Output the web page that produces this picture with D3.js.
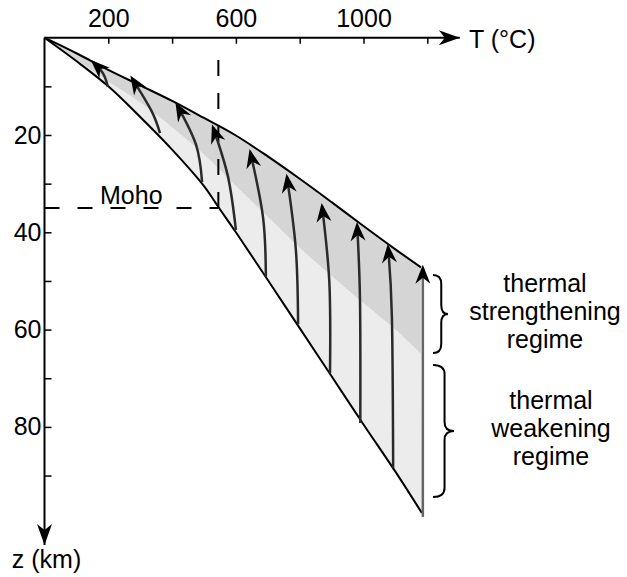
<!DOCTYPE html>
<html>
<head>
<meta charset="utf-8">
<script src="https://cdn.jsdelivr.net/npm/d3@7"></script>
<style>
  body { margin: 0; background: #fff; }
  svg { display: block; font-family: "Liberation Sans", Arial, sans-serif; }
</style>
</head>
<body>
<svg id="chart" width="627" height="577"></svg>
<script>
/* Data: temperature T (°C) against depth z (km) */
/* ********************************************* */

// cold (upper) and hot (lower) geotherms, and the line between the two regimes
var upperGeotherm = [[0,0],[100,3.2],[200,6.6],[300,9.8],[400,13.0],[500,16.5],[600,20.1],[700,24.4],[800,29.0],[900,33.8],[1000,38.7],[1100,43.5],[1180,47.2]];
var regimeBoundary = [[0,0],[100,4.5],[200,9.0],[300,13.3],[360,16.3],[500,24.0],[600,30.5],[700,36.8],[800,43.2],[900,49.0],[1000,54.6],[1100,60.0],[1180,65.0]];
var lowerGeotherm = [[0,0],[100,4.8],[200,10.0],[300,16.3],[400,23.0],[500,30.5],[545,34.8],[600,40.0],[700,49.8],[800,59.7],[900,69.6],[1000,79.5],[1100,89.2],[1183,97.7]];

// exhumation paths: tail, middle, head
var exhumationPaths = [
    [[199,10.1],[183,7.3],[152,5.0]],
    [[362,19.6],[335,15.0],[274,8.3]],
    [[494,29.7],[475,22.0],[415,13.8]],
    [[600,39.5],[575,28.5],[528,18.4]],
    [[694,49.2],[685,36.9],[645,23.5]],
    [[795,58.9],[788,43.6],[760,28.6]],
    [[895,68.9],[893,50.4],[870,34.6]],
    [[990,79.2],[989,53.9],[980,38.5]],
    [[1093,88.4],[1089,57.4],[1077,43.0]],
    [[1186,98.5],[1186,73.0],[1186,47.3]]
];

var moho = { T: 545, z: 35 };

var xTicks = [200, 400, 600, 800, 1000, 1200];
var xLabels = [200, 600, 1000];
var zTicks = [10, 20, 30, 40, 50, 60, 70, 80, 90];
var zLabels = [20, 40, 60, 80];

var regimes = [
    { lines: ['thermal', 'strengthening', 'regime'], z0: 48.8, z1: 64.8 },
    { lines: ['thermal', 'weakening', 'regime'], z0: 67.3, z1: 94.4 }
];


/* Drawing */
/* ******* */
var svg = d3.select('#chart');

var x = d3.scaleLinear().domain([0, 1200]).range([44.5, 427.3]);
var y = d3.scaleLinear().domain([0, 100]).range([37.7, 524.2]);

var defs = svg.append('defs');

function addMarker(id, len, half, notch, ref) {
    defs.append('marker')
        .attr('id', id)
        .attr('markerUnits', 'userSpaceOnUse')
        .attr('viewBox', (-len - 1) + ' ' + (-half - 1) + ' ' + (len + 6) + ' ' + (2 * half + 2))
        .attr('markerWidth', len + 6)
        .attr('markerHeight', 2 * half + 2)
        .attr('refX', ref)
        .attr('refY', 0)
        .attr('orient', 'auto')
        .append('path')
        .attr('d', 'M0,0 L' + (-len) + ',' + (-half) + ' L' + (-len + notch) + ',0 L' + (-len) + ',' + half + ' Z')
        .attr('fill', '#000');
}
addMarker('arrowHead', 19, 7.5, 6, -3);
addMarker('axisHead', 21, 7.5, 6, 0);

var line = d3.line()
    .x(function(d) { return x(d[0]); })
    .y(function(d) { return y(d[1]); })
    .curve(d3.curveCatmullRom);

// shaded regimes: top curve forward, bottom curve backward
function bandPath(top, bottom) {
    var back = line(bottom.slice().reverse());
    return line(top) + 'L' + back.slice(1) + 'Z';
}

svg.append('path')
    .attr('d', bandPath(regimeBoundary, lowerGeotherm))
    .attr('fill', '#ececec');

svg.append('path')
    .attr('d', bandPath(upperGeotherm, regimeBoundary))
    .attr('fill', '#d5d5d5');

// geotherms
svg.selectAll('path.geotherm')
    .data([upperGeotherm, lowerGeotherm])
    .enter()
    .append('path')
    .attr('class', 'geotherm')
    .attr('d', line)
    .attr('fill', 'none')
    .attr('stroke', '#000')
    .attr('stroke-width', 2);

// Moho dashed lines
svg.append('line')
    .attr('x1', x(0)).attr('y1', y(moho.z))
    .attr('x2', x(moho.T)).attr('y2', y(moho.z))
    .attr('stroke', '#000').attr('stroke-width', 2)
    .attr('stroke-dasharray', '15,18');

svg.append('line')
    .attr('x1', x(moho.T)).attr('y1', y(moho.z))
    .attr('x2', x(moho.T)).attr('y2', y(3.5))
    .attr('stroke', '#000').attr('stroke-width', 2)
    .attr('stroke-dasharray', '16,17');

svg.append('text')
    .attr('x', 100).attr('y', y(moho.z) - 4)
    .attr('font-size', 25)
    .text('Moho');

// exhumation arrows
var pathLine = d3.line()
    .x(function(d) { return x(d[0]); })
    .y(function(d) { return y(d[1]); })
    .curve(d3.curveNatural);

svg.selectAll('path.exhumation')
    .data(exhumationPaths)
    .enter()
    .append('path')
    .attr('class', 'exhumation')
    .attr('d', pathLine)
    .attr('fill', 'none')
    .attr('stroke', function(d, i) { return i === exhumationPaths.length - 1 ? '#666' : '#2a2a2a'; })
    .attr('stroke-width', 2.5)
    .attr('marker-end', 'url(#arrowHead)');

// axes
var xAxis = d3.axisTop(x)
    .tickValues(xTicks)
    .tickSizeInner(-6)
    .tickSizeOuter(0)
    .tickPadding(11)
    .tickFormat(function(d) { return xLabels.indexOf(d) >= 0 ? d : ''; });

var gx = svg.append('g')
    .attr('transform', 'translate(0,' + y(0) + ')')
    .call(xAxis);

var zAxis = d3.axisLeft(y)
    .tickValues(zTicks)
    .tickSizeInner(-7)
    .tickSizeOuter(0)
    .tickPadding(3)
    .tickFormat(function(d) { return zLabels.indexOf(d) >= 0 ? d : ''; });

var gz = svg.append('g')
    .attr('transform', 'translate(' + x(0) + ',0)')
    .call(zAxis);

[gx, gz].forEach(function(g) {
    g.select('.domain').remove();
    g.selectAll('.tick line').attr('stroke', '#000').attr('stroke-width', 1.5);
    g.selectAll('.tick text')
        .attr('font-family', '"Liberation Sans", Arial, sans-serif')
        .attr('font-size', 25)
        .attr('fill', '#000');
});

svg.append('line')
    .attr('x1', x(0)).attr('y1', y(0))
    .attr('x2', x(1302)).attr('y2', y(0))
    .attr('stroke', '#000').attr('stroke-width', 2)
    .attr('marker-end', 'url(#axisHead)');

svg.append('line')
    .attr('x1', x(0)).attr('y1', y(0))
    .attr('x2', x(0)).attr('y2', y(104.3))
    .attr('stroke', '#000').attr('stroke-width', 2)
    .attr('marker-end', 'url(#axisHead)');

svg.append('text')
    .attr('x', 469).attr('y', 48)
    .attr('font-size', 25)
    .text('T (°C)');

svg.append('text')
    .attr('x', x(0) + 2).attr('y', 568)
    .attr('text-anchor', 'middle')
    .attr('font-size', 25)
    .text('z (km)');

// regime braces and labels
function bracePath(x0, y1, y2, w) {
    var mid = (y1 + y2) / 2, q = 9, xm = x0 + w * 0.55;
    return 'M' + x0 + ',' + y1 +
        ' Q' + xm + ',' + y1 + ' ' + xm + ',' + (y1 + q) +
        ' L' + xm + ',' + (mid - q) +
        ' Q' + xm + ',' + mid + ' ' + (x0 + w) + ',' + mid +
        ' Q' + xm + ',' + mid + ' ' + xm + ',' + (mid + q) +
        ' L' + xm + ',' + (y2 - q) +
        ' Q' + xm + ',' + y2 + ' ' + x0 + ',' + y2;
}

var regimeG = svg.selectAll('g.regime')
    .data(regimes)
    .enter()
    .append('g')
    .attr('class', 'regime');

regimeG.append('path')
    .attr('d', function(d, i) { return bracePath(433, y(d.z0), y(d.z1), i === 0 ? 15 : 21); })
    .attr('fill', 'none')
    .attr('stroke', '#000')
    .attr('stroke-width', 2);

regimeG.each(function(d, i) {
    var cy = (y(d.z0) + y(d.z1)) / 2;
    var cx = i === 0 ? 545 : 551;
    d3.select(this).selectAll('text')
        .data(d.lines)
        .enter()
        .append('text')
        .attr('x', cx)
        .attr('y', function(t, j) { return cy + (j - 1) * 28 + 6; })
        .attr('text-anchor', 'middle')
        .attr('font-size', 25)
        .text(function(t) { return t; });
});
</script>
</body>
</html>
